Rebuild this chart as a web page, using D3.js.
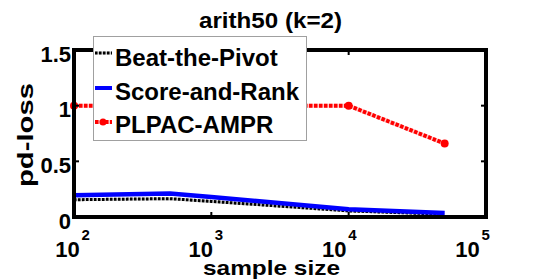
<!DOCTYPE html>
<html>
<head>
<meta charset="utf-8">
<script src="https://cdn.jsdelivr.net/npm/d3@7"></script>
<style>
  body { margin: 0; background: #fff; }
  text { font-family: "Liberation Sans", Arial, sans-serif; font-weight: bold; fill: #000; }
</style>
</head>
<body>
<div id="chart"></div>
<script>
// data
var sampleSizes = [100, 500, 1000, 10000, 50000];
var beatThePivot = [0.155, 0.165, 0.14, 0.055, 0.025];
var scoreAndRank = [0.195, 0.21, 0.18, 0.07, 0.035];
var plpacAmpr = [1, 1, 1, 1, 0.66];
var seriesNames = ["Beat-the-Pivot", "Score-and-Rank", "PLPAC-AMPR"];
var xTicks = [100, 1000, 10000, 100000];
var xTickExp = ["2", "3", "4", "5"];
var yTicks = [0, 0.5, 1, 1.5];
var yTickLabels = ["0", "0.5", "1", "1.5"];

var W = 538, H = 279;
var plot = { left: 74, right: 486, top: 50, bottom: 217 };

var svg = d3.select("#chart").append("svg")
    .attr("width", W)
    .attr("height", H);

var x = d3.scaleLog().domain([100, 100000]).range([plot.left, plot.right]);
var y = d3.scaleLinear().domain([0, 1.5]).range([plot.bottom, plot.top]);
// matlab spaces its exponent labels a bit tighter than the ticks
var xLab = d3.scaleLog().domain([100, 100000]).range([67.5, 467.5]);

// title
svg.append("text")
    .attr("x", 270.5).attr("y", 28)
    .attr("text-anchor", "middle")
    .attr("font-size", "22px")
    .attr("textLength", 143).attr("lengthAdjust", "spacingAndGlyphs")
    .text("arith50 (k=2)");

// lines
var line = d3.line()
    .x(function (d) { return x(d[0]); })
    .y(function (d) { return y(d[1]); });

function pairs(vals) {
    return sampleSizes.map(function (s, i) { return [s, vals[i]]; });
}

svg.append("path").datum(pairs(beatThePivot))
    .attr("d", line).attr("fill", "none")
    .attr("stroke", "#c8c8c8").attr("stroke-width", 3);
svg.append("path").datum(pairs(beatThePivot))
    .attr("d", line).attr("fill", "none")
    .attr("stroke", "#000").attr("stroke-width", 3)
    .attr("stroke-dasharray", "2.5,1.5");

svg.append("path").datum(pairs(scoreAndRank))
    .attr("d", line).attr("fill", "none")
    .attr("stroke", "#0000ff").attr("stroke-width", 4.5);

svg.append("path").datum(pairs(plpacAmpr))
    .attr("d", line).attr("fill", "none")
    .attr("stroke", "#ffc8c8").attr("stroke-width", 4);
svg.append("path").datum(pairs(plpacAmpr))
    .attr("d", line).attr("fill", "none")
    .attr("stroke", "#ff0000").attr("stroke-width", 4)
    .attr("stroke-dasharray", "3.5,1.5");

svg.selectAll(".dot").data(pairs(plpacAmpr)).enter()
    .append("circle")
    .attr("class", "dot")
    .attr("cx", function (d) { return x(d[0]); })
    .attr("cy", function (d) { return y(d[1]); })
    .attr("r", 4)
    .attr("fill", "#ff0000");

// axes box
svg.append("rect")
    .attr("x", plot.left).attr("y", plot.top)
    .attr("width", plot.right - plot.left)
    .attr("height", plot.bottom - plot.top)
    .attr("fill", "none")
    .attr("stroke", "#000").attr("stroke-width", 4);

// inward ticks on all four sides
xTicks.forEach(function (t) {
    svg.append("line").attr("x1", x(t)).attr("x2", x(t))
        .attr("y1", plot.bottom).attr("y2", plot.bottom - 5)
        .attr("stroke", "#000").attr("stroke-width", 2);
    svg.append("line").attr("x1", x(t)).attr("x2", x(t))
        .attr("y1", plot.top).attr("y2", plot.top + 5)
        .attr("stroke", "#000").attr("stroke-width", 2);
});
yTicks.forEach(function (t) {
    svg.append("line").attr("x1", plot.left).attr("x2", plot.left + 5)
        .attr("y1", y(t)).attr("y2", y(t))
        .attr("stroke", "#000").attr("stroke-width", 2);
    svg.append("line").attr("x1", plot.right).attr("x2", plot.right - 5)
        .attr("y1", y(t)).attr("y2", y(t))
        .attr("stroke", "#000").attr("stroke-width", 2);
});

// x tick labels 10^n
xTicks.forEach(function (t, i) {
    svg.append("text")
        .attr("x", xLab(t)).attr("y", 257)
        .attr("text-anchor", "middle")
        .attr("font-size", "22px")
        .text("10");
    svg.append("text")
        .attr("x", xLab(t) + 14).attr("y", 240)
        .attr("font-size", "15px")
        .text(xTickExp[i]);
});

// y tick labels
yTicks.forEach(function (t, i) {
    svg.append("text")
        .attr("x", 71).attr("y", y(t) + 11.5)
        .attr("text-anchor", "end")
        .attr("font-size", "22px")
        .text(yTickLabels[i]);
});

// axis labels
svg.append("text")
    .attr("transform", "translate(33,135) rotate(-90)")
    .attr("text-anchor", "middle")
    .attr("font-size", "22px")
    .attr("textLength", 104).attr("lengthAdjust", "spacingAndGlyphs")
    .text("pd-loss");

svg.append("text")
    .attr("x", 271.5).attr("y", 275)
    .attr("text-anchor", "middle")
    .attr("font-size", "21px")
    .attr("textLength", 137).attr("lengthAdjust", "spacingAndGlyphs")
    .text("sample size");

// legend
var legend = svg.append("g");
legend.append("rect")
    .attr("x", 93.5).attr("y", 36.5)
    .attr("width", 213).attr("height", 104)
    .attr("fill", "#fff")
    .attr("stroke", "#a0a0a0").attr("stroke-width", 1);

var rowY = [53, 88, 122];
var textY = [66, 100, 133];

legend.append("line").attr("x1", 95).attr("x2", 112)
    .attr("y1", rowY[0]).attr("y2", rowY[0])
    .attr("stroke", "#c8c8c8").attr("stroke-width", 3);
legend.append("line").attr("x1", 95).attr("x2", 112)
    .attr("y1", rowY[0]).attr("y2", rowY[0])
    .attr("stroke", "#000").attr("stroke-width", 3)
    .attr("stroke-dasharray", "2.5,1.5");

legend.append("line").attr("x1", 95).attr("x2", 112)
    .attr("y1", rowY[1]).attr("y2", rowY[1])
    .attr("stroke", "#0000ff").attr("stroke-width", 4);

legend.append("line").attr("x1", 95).attr("x2", 112)
    .attr("y1", rowY[2]).attr("y2", rowY[2])
    .attr("stroke", "#ffc8c8").attr("stroke-width", 4);
legend.append("line").attr("x1", 95).attr("x2", 112)
    .attr("y1", rowY[2]).attr("y2", rowY[2])
    .attr("stroke", "#ff0000").attr("stroke-width", 4)
    .attr("stroke-dasharray", "3.5,1.5");
legend.append("circle")
    .attr("cx", 103).attr("cy", rowY[2]).attr("r", 3.5)
    .attr("fill", "#ff0000");

seriesNames.forEach(function (name, i) {
    legend.append("text")
        .attr("x", 115).attr("y", textY[i])
        .attr("font-size", "24px")
        .text(name);
});
</script>
</body>
</html>
